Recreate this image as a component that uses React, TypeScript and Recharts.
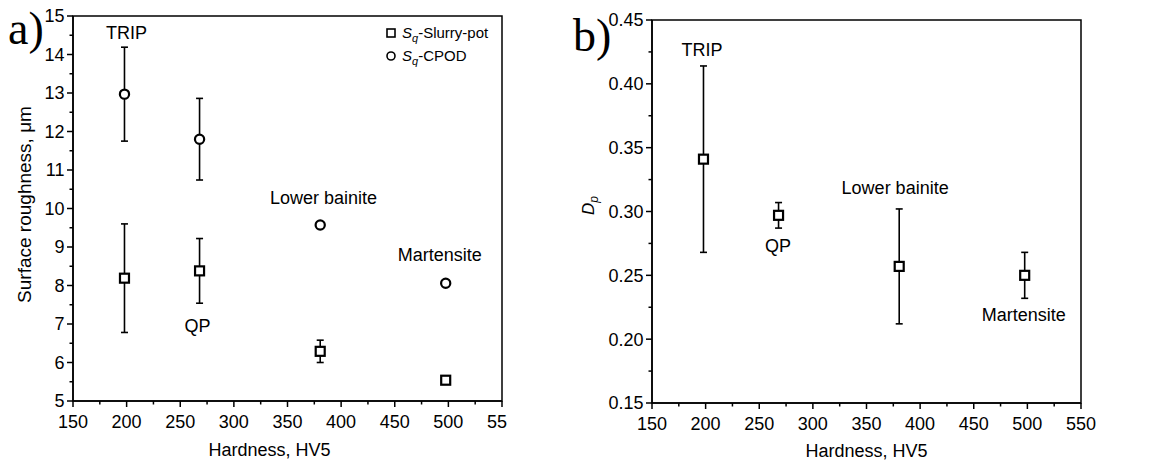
import React from 'react';
import {
  ScatterChart,
  Scatter,
  XAxis,
  YAxis,
  ErrorBar,
  ReferenceArea,
  ReferenceDot,
  Legend,
  Label,
} from 'recharts';

// materials and hardness (HV5)
const phases = ['TRIP', 'QP', 'Lower bainite', 'Martensite'];
const hardness = [198, 268, 380.5, 497.5];

// a) surface roughness Sq, um
const sqSlurry = [8.19, 8.38, 6.29, 5.54];
const sqSlurryErr = [1.41, 0.84, 0.29, 0.05];
const sqCpod = [12.97, 11.8, 9.57, 8.06];
const sqCpodErr = [1.22, 1.06, 0.05, 0.07];

// b) Dp
const dp = [0.341, 0.297, 0.257, 0.25];
const dpErr = [0.073, 0.01, 0.045, 0.018];

// where the phase names sit (data coordinates)
const labelHardnessA = [200, 266, 383.5, 492];
const labelValueA = [14.58, 6.96, 10.27, 8.81];
const labelHardnessB = [196.6, 267.5, 376.7, 496.6];
const labelValueB = [0.427, 0.273, 0.319, 0.219];

const seriesNames = ['Slurry-pot', 'CPOD'];

const xTicks = [150, 175, 200, 225, 250, 275, 300, 325, 350, 375, 400, 425, 450, 475, 500, 525, 550];
const yTicksA = [5, 5.5, 6, 6.5, 7, 7.5, 8, 8.5, 9, 9.5, 10, 10.5, 11, 11.5, 12, 12.5, 13, 13.5, 14, 14.5, 15];
const yTicksB = [0.15, 0.175, 0.2, 0.225, 0.25, 0.275, 0.3, 0.325, 0.35, 0.375, 0.4, 0.425, 0.45];

const FONT = 'Arial, "Liberation Sans", sans-serif';
const SERIF = '"Times New Roman", "Liberation Serif", serif';
const FS = 18;

const slurryData = hardness.map((h, i) => ({ x: h, y: sqSlurry[i], err: sqSlurryErr[i] }));
const cpodData = hardness.map((h, i) => ({ x: h, y: sqCpod[i], err: sqCpodErr[i] }));
const dpData = hardness.map((h, i) => ({ x: h, y: dp[i], err: dpErr[i] }));

const isMajor = (v: number, step: number) => Math.abs(v / step - Math.round(v / step)) < 1e-6;

// panel a) is cut at its right edge in the original, so its last label reads "55"
const makeXTick = (truncLast: boolean) => (props: any) => {
  const { x, y, payload } = props;
  const major = isMajor(payload.value, 50);
  const cut = truncLast && payload.value === 550;
  return (
    <g>
      <line x1={x} x2={x} y1={y} y2={y + (major ? 6 : 3.5)} stroke="#000" strokeWidth={1.5} />
      {major && (
        <text
          x={cut ? x - 15 : x}
          y={y + 27}
          textAnchor={cut ? 'start' : 'middle'}
          fontSize={FS}
          fontFamily={FONT}
          fill="#000"
        >
          {cut ? '55' : payload.value}
        </text>
      )}
    </g>
  );
};

const XTickA = makeXTick(true);
const XTickB = makeXTick(false);

const makeYTick = (step: number, digits: number) => (props: any) => {
  const { x, y, payload } = props;
  const major = isMajor(payload.value, step);
  return (
    <g>
      <line x1={x} x2={x - (major ? 6 : 3.5)} y1={y} y2={y} stroke="#000" strokeWidth={1.5} />
      {major && (
        <text x={x - 8.5} y={y} dy="0.36em" textAnchor="end" fontSize={FS} fontFamily={FONT} fill="#000">
          {payload.value.toFixed(digits)}
        </text>
      )}
    </g>
  );
};

const YTickA = makeYTick(1, 0);
const YTickB = makeYTick(0.05, 2);

const SquareMark = (props: any) => {
  const { cx, cy } = props;
  return <rect x={cx - 4.5} y={cy - 4.5} width={9} height={9} fill="#fff" stroke="#000" strokeWidth={2.2} />;
};

const CircleMark = (props: any) => {
  const { cx, cy } = props;
  return <circle cx={cx} cy={cy} r={4.6} fill="#fff" stroke="#000" strokeWidth={2.2} />;
};

const LegendA = () => (
  <div style={{ fontFamily: FONT, fontSize: 15, color: '#000' }}>
    {seriesNames.map((name, i) => (
      <div key={name} style={{ display: 'flex', alignItems: 'center', height: 23.5 }}>
        <svg width={18} height={12}>
          {i === 0 ? (
            <rect x={3} y={2} width={8} height={8} fill="#fff" stroke="#000" strokeWidth={1.6} />
          ) : (
            <circle cx={7} cy={6} r={4} fill="#fff" stroke="#000" strokeWidth={1.6} />
          )}
        </svg>
        <span style={{ lineHeight: '18px' }}>
          <i>S</i>
          <sub style={{ fontSize: 11, fontStyle: 'italic', lineHeight: 0 }}>q</sub>-{name}
        </span>
      </div>
    ))}
  </div>
);

const phaseLabel = (text: string) => ({
  value: text,
  position: 'center' as const,
  fontSize: FS,
  fontFamily: FONT,
  fill: '#000',
});

const ChartA = () => (
  <div style={{ position: 'absolute', left: 0, top: 0, width: 560, height: 466 }}>
    <ScatterChart width={560} height={466} margin={{ top: 16, right: 58, bottom: 0, left: 0 }}>
      <XAxis
        type="number"
        dataKey="x"
        domain={[150, 550]}
        ticks={xTicks}
        interval={0}
        tickSize={0}
        tickMargin={0}
        tickLine={false}
        tick={<XTickA />}
        height={65}
        axisLine={{ stroke: '#000', strokeWidth: 1.5 }}
      >
        <Label
          content={(p: any) => {
            const vb = p.viewBox;
            return (
              <text x={vb.x + vb.width / 2 - 18} y={vb.y + 55} textAnchor="middle" fontSize={FS} fontFamily={FONT} fill="#000">
                Hardness, HV5
              </text>
            );
          }}
        />
      </XAxis>
      <YAxis
        type="number"
        dataKey="y"
        domain={[5, 15]}
        ticks={yTicksA}
        interval={0}
        tickSize={0}
        tickMargin={0}
        tickLine={false}
        tick={<YTickA />}
        width={73}
        axisLine={{ stroke: '#000', strokeWidth: 1.5 }}
      >
        <Label
          content={(p: any) => {
            const vb = p.viewBox;
            const cy = vb.y + vb.height / 2 - 4;
            return (
              <text x={24} y={cy} transform={`rotate(-90 24 ${cy})`} dy="0.36em" textAnchor="middle" fontSize={19} fontFamily={FONT} fill="#000">
                Surface roughness, μm
              </text>
            );
          }}
        />
      </YAxis>
      <ReferenceArea x1={150} x2={550} y1={5} y2={15} fill="none" stroke="#000" strokeWidth={1.5} />
      <Scatter name={seriesNames[0]} data={slurryData} shape={<SquareMark />} isAnimationActive={false}>
        <ErrorBar dataKey="err" direction="y" width={3.5} stroke="#000" strokeWidth={1.6} />
      </Scatter>
      <Scatter name={seriesNames[1]} data={cpodData} shape={<CircleMark />} isAnimationActive={false}>
        <ErrorBar dataKey="err" direction="y" width={3.5} stroke="#000" strokeWidth={1.6} />
      </Scatter>
      {phases.map((ph, i) => (
        <ReferenceDot key={ph} x={labelHardnessA[i]} y={labelValueA[i]} r={0} fill="none" stroke="none" label={phaseLabel(ph)} />
      ))}
      <Legend
        layout="vertical"
        align="center"
        verticalAlign="middle"
        content={<LegendA />}
        wrapperStyle={{ left: 384, top: 21, width: 'auto', height: 'auto' }}
      />
    </ScatterChart>
    <div style={{ position: 'absolute', left: 8, top: 3, fontFamily: SERIF, fontSize: 46, lineHeight: '52px', color: '#000' }}>a)</div>
  </div>
);

const ChartB = () => (
  <div style={{ position: 'absolute', left: 580, top: 0, width: 577, height: 466 }}>
    <ScatterChart width={577} height={466} margin={{ top: 20, right: 76, bottom: 0, left: 0 }}>
      <XAxis
        type="number"
        dataKey="x"
        domain={[150, 550]}
        ticks={xTicks}
        interval={0}
        tickSize={0}
        tickMargin={0}
        tickLine={false}
        tick={<XTickB />}
        height={63}
        axisLine={{ stroke: '#000', strokeWidth: 1.5 }}
      >
        <Label
          content={(p: any) => {
            const vb = p.viewBox;
            return (
              <text x={vb.x + vb.width / 2} y={vb.y + 54} textAnchor="middle" fontSize={FS} fontFamily={FONT} fill="#000">
                Hardness, HV5
              </text>
            );
          }}
        />
      </XAxis>
      <YAxis
        type="number"
        dataKey="y"
        domain={[0.15, 0.45]}
        ticks={yTicksB}
        interval={0}
        tickSize={0}
        tickMargin={0}
        tickLine={false}
        tick={<YTickB />}
        width={72}
        axisLine={{ stroke: '#000', strokeWidth: 1.5 }}
      >
        <Label
          content={(p: any) => {
            const vb = p.viewBox;
            const cy = vb.y + vb.height / 2 - 6;
            return (
              <text x={8} y={cy} transform={`rotate(-90 8 ${cy})`} dy="0.36em" textAnchor="middle" fontSize={17} fontFamily={FONT} fontStyle="italic" fill="#000">
                D<tspan fontSize={12} dy={4}>p</tspan>
              </text>
            );
          }}
        />
      </YAxis>
      <ReferenceArea x1={150} x2={550} y1={0.15} y2={0.45} fill="none" stroke="#000" strokeWidth={1.5} />
      <Scatter name="Dp" data={dpData} shape={<SquareMark />} isAnimationActive={false}>
        <ErrorBar dataKey="err" direction="y" width={3.5} stroke="#000" strokeWidth={1.6} />
      </Scatter>
      {phases.map((ph, i) => (
        <ReferenceDot key={ph} x={labelHardnessB[i]} y={labelValueB[i]} r={0} fill="none" stroke="none" label={phaseLabel(ph)} />
      ))}
    </ScatterChart>
    <div style={{ position: 'absolute', left: -7, top: 10, fontFamily: SERIF, fontSize: 46, lineHeight: '52px', color: '#000' }}>b)</div>
  </div>
);

export default function App() {
  return (
    <div style={{ position: 'absolute', left: 0, top: 0, width: 1157, height: 466, background: '#fff' }}>
      <ChartA />
      <ChartB />
    </div>
  );
}
